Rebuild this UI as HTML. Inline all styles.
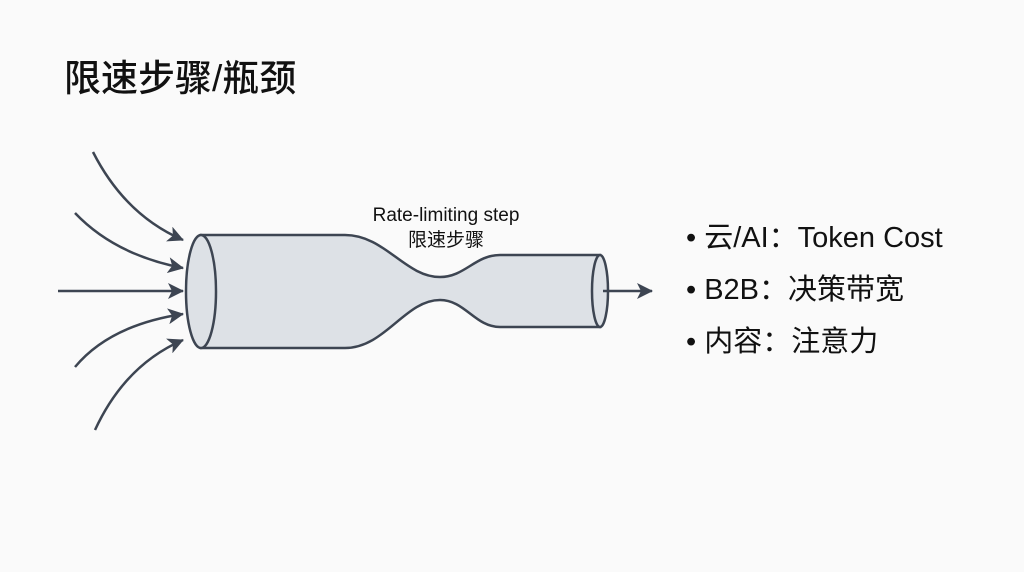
<!DOCTYPE html>
<html><head><meta charset="utf-8"><style>
body{margin:0;width:1024px;height:572px;background:#fafafa;overflow:hidden;font-family:"Liberation Sans","Noto Sans CJK SC",sans-serif;position:relative;color:#111}
.t{position:absolute;left:64px;top:48px;font-size:37px;font-weight:500}
.b{position:absolute;left:686px;font-size:29px}
</style></head><body>
<div class="t">限速步骤/瓶颈</div>
<svg width="1024" height="572" style="position:absolute;left:0;top:0">
<defs><marker id="a" markerWidth="18" markerHeight="16" refX="15" refY="8" orient="auto" markerUnits="userSpaceOnUse"><path d="M0,0 L16,8 L0,16 L4,8 Z" fill="#3d4552"/></marker></defs>
<path d="M201,235 L345,235 C385,235 405,277 440,277 C465,277 475,255 500,255 L600,255 L600,327 L500,327 C475,327 465,300 440,300 C405,300 385,348 345,348 L201,348 Z" fill="#dde1e6" stroke="#3d4552" stroke-width="2.5"/>
<ellipse cx="201" cy="291.5" rx="15" ry="56.5" fill="#dde1e6" stroke="#3d4552" stroke-width="2.5"/>
<ellipse cx="600" cy="291" rx="8" ry="36" fill="#dde1e6" stroke="#3d4552" stroke-width="2.5"/>
<g stroke="#3d4552" stroke-width="2.5" fill="none" marker-end="url(#a)">
<path d="M93,152 Q125,215 183,240"/>
<path d="M75,213 Q115,255 183,268"/>
<path d="M58,291 L183,291"/>
<path d="M75,367 Q110,325 183,314"/>
<path d="M95,430 Q125,365 183,340"/>
<path d="M603,291 L652,291"/>
</g>
<text x="446" y="221" font-size="19" text-anchor="middle" fill="#111">Rate-limiting step</text>
<text x="446" y="246" font-size="19" text-anchor="middle" fill="#111">限速步骤</text>
</svg>
<div class="b" style="top:214px">• 云/AI：Token Cost</div>
<div class="b" style="top:266px">• B2B：决策带宽</div>
<div class="b" style="top:318px">• 内容：注意力</div>
</body></html>
